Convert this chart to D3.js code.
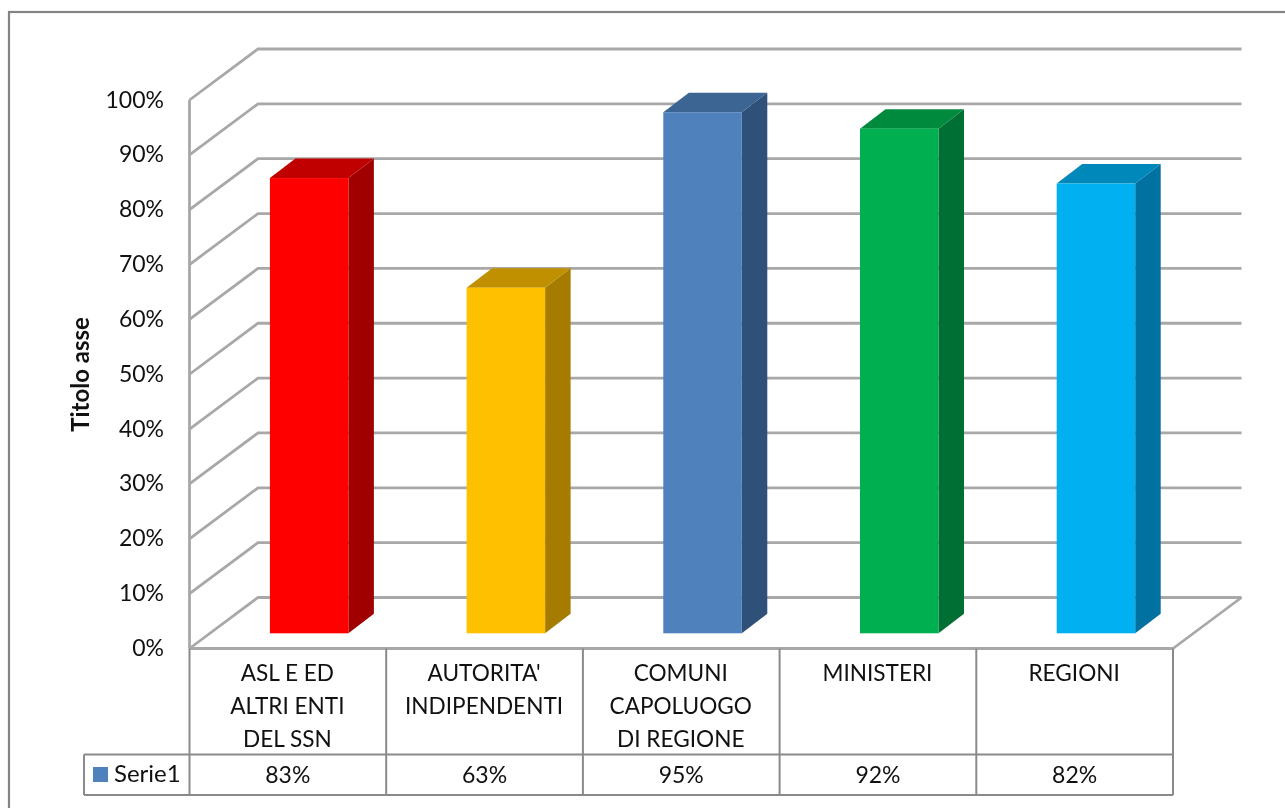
<!DOCTYPE html>
<html>
<head>
<meta charset="utf-8">
<script src="https://cdnjs.cloudflare.com/ajax/libs/d3/7.8.5/d3.min.js"></script>
<style>
html,body{margin:0;padding:0;background:#fff;overflow:hidden}
svg{filter:blur(0.45px)}
text{font-family:Lato,"Open Sans",sans-serif;fill:#111}
</style>
</head>
<body>
<svg id="c" width="1285" height="808"></svg>
<script>
const categories = [["ASL E ED","ALTRI ENTI","DEL SSN"],["AUTORITA'","INDIPENDENTI"],["COMUNI","CAPOLUOGO","DI REGIONE"],["MINISTERI"],["REGIONI"]];
const values = [0.83,0.63,0.95,0.92,0.82];
const valueLabels = ["83%","63%","95%","92%","82%"];
const tickValues = [0,0.1,0.2,0.3,0.4,0.5,0.6,0.7,0.8,0.9,1];
const faceColors = ["#ff0000","#ffc000","#4f81bd","#00b050","#00b0f0"];
const topColors = ["#c00000","#c09000","#3d6594","#008a3e","#0088ba"];
const sideColors = ["#a00000","#a67c00","#2f5079","#006f33","#0071a0"];
const seriesName = "Serie1";
const axisTitle = "Titolo asse";

const svg = d3.select("#c");
const y = d3.scaleLinear().domain([0,1]).range([648.5,100]);
const x = d3.scaleBand().domain(d3.range(values.length)).range([189.5,1173]);
const wallDx = 68.5, wallDy = -51;
const barDx = 25.5, barDy = -19.5;
const floorDx = 21.3, floorDy = -16;
const barW = 78.5;
const gridC = "#a8a8a8", tableC = "#8a8a8a";
const line = (x1,y1,x2,y2,c,w)=>svg.append("line").attr("x1",x1).attr("y1",y1).attr("x2",x2).attr("y2",y2).attr("stroke",c).attr("stroke-width",w);

// outer border
svg.append("rect").attr("x",9).attr("y",12).attr("width",1290).attr("height",820)
  .attr("fill","none").attr("stroke","#848484").attr("stroke-width",2.2);

// walls and gridlines
const gx0 = x.range()[0], gx1 = x.range()[1];
svg.append("g").selectAll("path").data(tickValues).join("path")
  .attr("fill","none").attr("stroke",gridC).attr("stroke-width",2.8)
  .attr("d",d=>d3.line()([[gx0,y(d)],[gx0+wallDx,y(d)+wallDy],[gx1+wallDx,y(d)+wallDy]]));
line(gx0,y(1),gx0,y(0),gridC,2.8);
line(gx0,y(0),gx1,y(0),gridC,3.2);
line(gx1,y(0),gx1+wallDx,y(0)+wallDy,gridC,2.8);

// bars
const bars = svg.append("g").selectAll("g").data(values).join("g");
const bx = i => x(i)+x.bandwidth()/2+floorDx-barW/2;
const by0 = y(0)+floorDy+0.8;
const h = d => y(0)-y(d);
bars.append("path").attr("fill",(d,i)=>sideColors[i])
  .attr("d",(d,i)=>{const X=bx(i)+barW,T=by0-h(d);return d3.line()([[X,T],[X+barDx,T+barDy],[X+barDx,by0+barDy],[X,by0]])+"Z";});
bars.append("path").attr("fill",(d,i)=>topColors[i])
  .attr("d",(d,i)=>{const X=bx(i),T=by0-h(d);return d3.line()([[X,T],[X+barDx,T+barDy],[X+barW+barDx,T+barDy],[X+barW,T]])+"Z";});
bars.append("rect").attr("fill",(d,i)=>faceColors[i])
  .attr("x",(d,i)=>bx(i)).attr("width",barW)
  .attr("y",d=>by0-h(d)).attr("height",d=>h(d));

// value axis labels
svg.append("g").selectAll("text").data(tickValues).join("text")
  .attr("x",164).attr("y",d=>y(d)+7.5).attr("text-anchor","end").attr("font-size",23)
  .text(d3.format(".0%"));
svg.append("text").attr("transform","translate(89,374.5) rotate(-90)").attr("text-anchor","middle")
  .attr("font-size",24).attr("font-weight",700).text(axisTitle);

// data table
const tTop = 754.5, tBot = 795, tLeft = 84;
x.domain().concat([values.length]).forEach(i=>{
  const X = i<values.length ? x(i) : gx1;
  line(X,y(0),X,tBot,tableC,2);
});
line(tLeft,tTop,gx1,tTop,tableC,2);
line(tLeft,tBot,gx1,tBot,tableC,2);
line(tLeft,tTop,tLeft,tBot,tableC,2);
svg.append("rect").attr("x",93).attr("y",767).attr("width",15).attr("height",15).attr("fill",faceColors[2]);
svg.append("text").attr("x",114).attr("y",782).attr("font-size",24).text(seriesName);

const cells = svg.append("g").selectAll("g").data(categories).join("g");
cells.selectAll("text").data(d=>d).join("text")
  .attr("text-anchor","middle").attr("font-size",22.6)
  .attr("x",function(){const i=categories.indexOf(d3.select(this.parentNode).datum());return x(i)+x.bandwidth()/2-0.5;})
  .attr("y",(d,i)=>681+i*33)
  .text(d=>d);
svg.append("g").selectAll("text").data(valueLabels).join("text")
  .attr("text-anchor","middle").attr("font-size",23)
  .attr("x",(d,i)=>x(i)+x.bandwidth()/2).attr("y",783).text(d=>d);
</script>
</body>
</html>
